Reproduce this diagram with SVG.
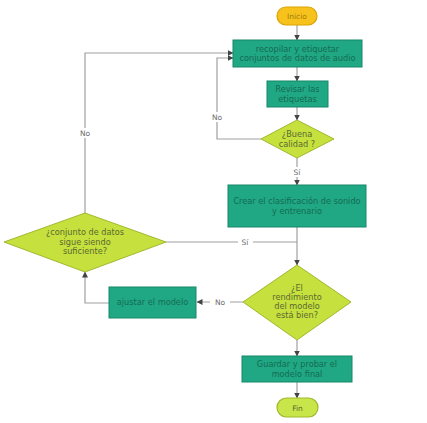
<svg xmlns="http://www.w3.org/2000/svg" width="427" height="423" viewBox="0 0 427 423">
<style>
.rect{fill:#1fa883;stroke:#17886b;stroke-width:1}
.dia{fill:#c6e03e;stroke:#9fba2c;stroke-width:1}
.rt{font-family:"DejaVu Sans",sans-serif;font-size:8.2px;fill:#166b55;text-anchor:middle}
.dt{font-family:"DejaVu Sans",sans-serif;font-size:8.2px;fill:#5a6a30;text-anchor:middle}
.ln{fill:none;stroke:#a0a0a0;stroke-width:1.2}
.lb{font-family:"DejaVu Sans",sans-serif;font-size:7.5px;fill:#6b6b6b;text-anchor:middle}
</style>
<defs>
<marker id="ah" viewBox="0 0 6 6" refX="5.5" refY="3" markerWidth="5" markerHeight="5" orient="auto">
<path d="M0,0 L6,3 L0,6 z" fill="#444"/>
</marker>
</defs>
<rect width="427" height="423" fill="#ffffff"/>
<g id="connectors">
<path class="ln" d="M297,25 V40" marker-end="url(#ah)"/>
<path class="ln" d="M297,67 V81" marker-end="url(#ah)"/>
<path class="ln" d="M297,107 V120" marker-end="url(#ah)"/>
<path class="ln" d="M261,139 H217 V58 H233" marker-end="url(#ah)"/>
<path class="ln" d="M297,158 V185" marker-end="url(#ah)"/>
<path class="ln" d="M297,227 V265" marker-end="url(#ah)"/>
<path class="ln" d="M166,242 H297"/>
<path class="ln" d="M85,213 V53 H233" marker-end="url(#ah)"/>
<path class="ln" d="M243,302 H197" marker-end="url(#ah)"/>
<path class="ln" d="M109,303 H85 V272" marker-end="url(#ah)"/>
<path class="ln" d="M297,340 V356" marker-end="url(#ah)"/>
<path class="ln" d="M297,382 V398" marker-end="url(#ah)"/>
<rect x="209" y="112" width="16" height="10" fill="#fff"/>
<text class="lb" x="217" y="120">No</text>
<rect x="75" y="128" width="20" height="10" fill="#fff"/>
<text class="lb" x="85" y="136">No</text>
<rect x="290" y="167" width="14" height="10" fill="#fff"/>
<text class="lb" x="297" y="175">Sí</text>
<rect x="238" y="237" width="15" height="10" fill="#fff"/>
<text class="lb" x="245" y="245">Sí</text>
<rect x="210" y="297" width="20" height="10" fill="#fff"/>
<text class="lb" x="220" y="305">No</text>
</g>
<g id="inicio">
<rect x="277" y="7" width="40" height="18" rx="9" fill="#f8c21c" stroke="#d9a300" stroke-width="1.2"/>
<text x="297" y="19" font-family="DejaVu Sans, sans-serif" font-size="7.5px" fill="#a07a10" text-anchor="middle">Inicio</text>
</g>
<g id="recopilar">
<rect class="rect" x="233" y="40" width="129" height="27"/>
<text class="rt" x="297.5" y="51.5">recopilar y etiquetar</text>
<text class="rt" x="297.5" y="61">conjuntos de datos de audio</text>
</g>
<g id="revisar">
<rect class="rect" x="267" y="81" width="61" height="26"/>
<text class="rt" x="297.5" y="92">Revisar las</text>
<text class="rt" x="297.5" y="101.5">etiquetas</text>
</g>
<g id="buena">
<polygon class="dia" points="297,120 334,139 297,158 261,139"/>
<text class="dt" x="297" y="137">¿Buena</text>
<text class="dt" x="297" y="146.5">calidad ?</text>
</g>
<g id="crear">
<rect class="rect" x="228" y="185" width="138" height="42"/>
<text class="rt" x="297" y="204">Crear el clasificación de sonido</text>
<text class="rt" x="297" y="214">y entrenario</text>
</g>
<g id="suficiente">
<polygon class="dia" points="85,213 166,242 85,272 4,242"/>
<text class="dt" x="85" y="235">¿conjunto de datos</text>
<text class="dt" x="85" y="244.5">sigue siendo</text>
<text class="dt" x="85" y="254">suficiente?</text>
</g>
<g id="rendimiento">
<polygon class="dia" points="297,265 351,302 297,340 243,302"/>
<text class="dt" x="297" y="291">¿El</text>
<text class="dt" x="297" y="300">rendimiento</text>
<text class="dt" x="297" y="309">del modelo</text>
<text class="dt" x="297" y="318">está bien?</text>
</g>
<g id="ajustar">
<rect class="rect" x="109" y="287" width="87" height="31"/>
<text class="rt" x="152.5" y="305">ajustar el modelo</text>
</g>
<g id="guardar">
<rect class="rect" x="242" y="356" width="110" height="26"/>
<text class="rt" x="297" y="367">Guardar y probar el</text>
<text class="rt" x="297" y="376.5">modelo final</text>
</g>
<g id="fin">
<rect x="277" y="398" width="41" height="19" rx="9.5" fill="#c8e64a" stroke="#9fba2c" stroke-width="1.2"/>
<text x="297.5" y="410.5" font-family="DejaVu Sans, sans-serif" font-size="7.5px" fill="#5a6a30" text-anchor="middle">Fin</text>
</g>
</svg>
